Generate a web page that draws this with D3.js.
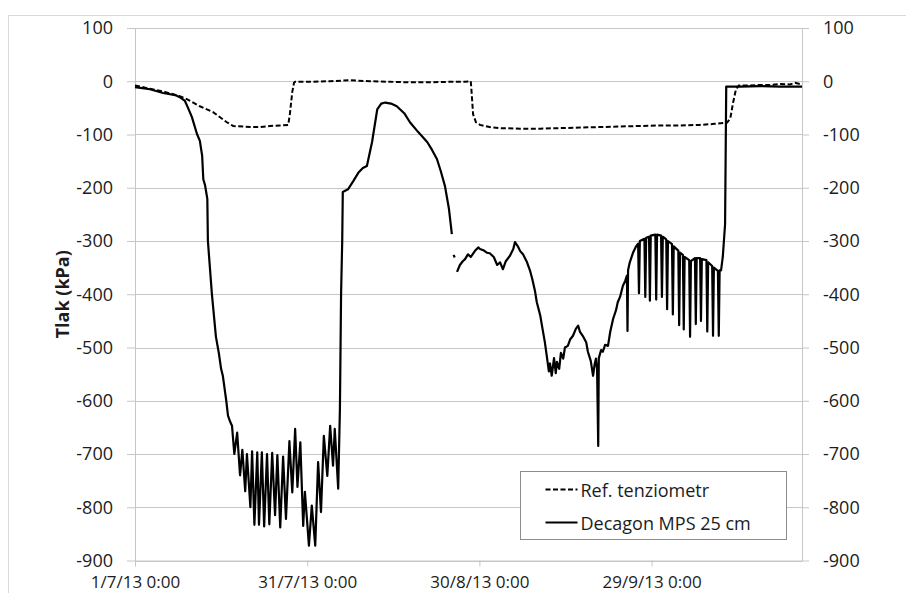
<!DOCTYPE html>
<html>
<head>
<meta charset="utf-8">
<script src="https://cdn.jsdelivr.net/npm/d3@7/dist/d3.min.js"></script>
<style>
	body { margin: 0; background: #fff; }
	svg { display: block; font-family: 'Open Sans', 'Noto Sans', sans-serif; }
</style>
</head>
<body>
<div id="chart"></div>
<script>
// x in days since 1/7/13 0:00, y in kPa
const xTickDates = ['2013-07-01', '2013-07-31', '2013-08-30', '2013-09-29'];
const yTicks = [100, 0, -100, -200, -300, -400, -500, -600, -700, -800, -900];
const axisDays = 116.2;

const seriesNames = ['Ref. tenziometr', 'Decagon MPS 25 cm'];

const refDay = [0, 2.6, 5.2, 7.8, 9.1, 11.3, 13.6, 16.0, 17.1, 20.1, 21.8, 23.5, 25.3, 26.7, 27.0, 27.4, 27.7, 27.9,
	30.5, 34.0, 37.5, 40.9, 44.4, 47.9, 51.4, 54.9, 57.5, 58.5, 58.7, 58.9, 59.4, 60.1, 61.8, 63.6, 67.1, 70.6,
	74.0, 77.5, 81.0, 84.5, 88.0, 91.5, 95.0, 98.4, 101.0, 103.1, 103.7, 104.2, 104.7, 105.2, 107.1, 108.9,
	110.6, 112.4, 114.1, 115.0, 116.2];
const refKPa = [-8, -14, -20, -28, -34, -47, -58, -77, -84, -86, -86, -84, -83, -82, -60, -20, -3, -1,
	-1, 0, 2, 0, -1, -2, -2, -1, -1, 0, -30, -62, -77, -82, -86, -88, -89, -89,
	-88, -87, -86, -85, -84, -83, -83, -82, -80, -78, -70, -40, -15, -8, -8, -7,
	-7, -5, -6, -3, -6];

const mpsDay = [0, 2.6, 4.9, 7.0, 7.8, 8.7, 9.2, 9.9, 10.8, 11.3, 11.7, 11.9, 12.2, 12.6, 12.7, 13.4, 14.1, 14.6,
	15.0, 15.3, 15.9, 16.2, 16.6, 16.9, 17.3, 17.8, 18.3, 18.7, 19.2, 19.5, 20.1, 20.4, 20.8, 21.3, 21.6, 22.1,
	22.5, 23.0, 23.4, 23.9, 24.4, 24.8, 25.3, 25.8, 26.3, 26.9, 27.4, 27.9, 28.3, 28.8, 29.3, 29.6, 30.3, 30.8,
	31.4, 31.9, 32.4, 32.9, 33.5, 34.0, 34.5, 34.8, 35.4, 35.7, 35.9, 36.1, 36.2, 37.1, 38.0, 38.9, 39.7, 40.4,
	41.3, 42.2, 42.9, 43.6, 44.6, 45.6, 46.9, 47.9, 49.3, 50.9, 51.7, 52.6, 53.3, 54.0, 54.7, 55.2,
	55.4, 55.5, 55.7, 55.9,
	56.1, 56.6, 57.1, 57.5, 58.0, 58.5, 59.2, 59.8, 60.1, 60.8, 61.3, 61.8, 62.5, 63.1, 63.6, 64.1, 64.6, 65.3,
	65.9, 66.2, 66.7, 67.1, 67.6, 68.3, 68.8, 69.2, 69.7, 70.0, 70.6, 70.9, 71.4, 71.8, 72.1, 72.3, 72.6, 73.0,
	73.3, 73.5, 73.9, 74.2, 74.6, 74.9, 75.4, 75.8, 76.3, 76.8, 77.2, 77.5, 78.0, 78.6, 78.9, 79.4, 79.8, 80.1,
	80.3, 80.5, 80.7, 80.8, 81.2, 81.5, 81.9, 82.4, 82.8, 83.3, 83.8, 84.1, 84.5, 85.0, 85.4, 85.7, 85.8, 85.9,
	86.2, 86.8, 87.3,
	87.65, 87.8, 87.95, 88.75, 88.9, 89.05, 89.55, 89.7, 89.85, 90.65, 90.8, 90.95, 91.65, 91.8, 91.95,
	92.55, 92.7, 92.85, 93.55, 93.7, 93.85, 94.65, 94.8, 94.95, 95.45, 95.6, 95.75, 96.55, 96.7, 96.85,
	97.55, 97.7, 97.85, 98.45, 98.6, 98.75, 99.55, 99.7, 99.85, 100.55, 100.7, 100.85, 101.55, 101.7, 101.85,
	102.1, 102.4, 102.8, 103.0, 105.4, 108.9, 112.4, 116.2];
const mpsKPa = [-11, -15, -22, -26, -30, -37, -49, -67, -99, -112, -140, -184, -195, -221, -300, -400, -480, -510,
	-540, -553, -600, -628, -640, -647, -700, -660, -740, -692, -770, -700, -800, -695, -833, -697, -833, -697,
	-836, -700, -832, -698, -815, -702, -838, -705, -822, -676, -772, -653, -762, -678, -835, -771, -872, -797,
	-872, -715, -809, -666, -741, -647, -722, -653, -765, -615, -400, -300, -208, -203, -188, -172, -163, -159,
	-114, -53, -42, -40, -42, -47, -60, -77, -95, -114, -128, -146, -170, -197, -240, -287,
	null, -326, -331, null,
	-358, -345, -338, -334, -325, -330, -319, -312, -315, -318, -322, -323, -330, -345, -340, -353, -338, -328,
	-315, -302, -310, -319, -325, -340, -355, -371, -395, -415, -440, -459, -490, -521, -545, -530, -553, -520,
	-548, -527, -540, -510, -521, -500, -497, -485, -478, -465, -459, -470, -478, -490, -508, -525, -553, -530,
	-521, -540, -685, -520, -505, -508, -495, -497, -470, -446, -430, -415, -405, -384, -375, -365, -469, -355,
	-340, -321, -310,
	-305, -398, -300, -296, -405, -294, -292, -412, -290, -288, -410, -288, -290, -405, -292,
	-297, -428, -300, -306, -438, -310, -318, -458, -322, -326, -466, -330, -336, -480, -338,
	-332, -456, -332, -332, -450, -334, -336, -470, -340, -347, -478, -350, -356, -478, -355,
	-355, -330, -268, -10, -10, -9, -10, -10];

const option = {
	width: 906,
	height: 593,
	margin: { left: 135, right: 104, top: 28, bottom: 32 },
	gridColor: '#c6c6c6',
	textColor: '#1c1c1c'
};

const startDate = new Date(2013, 6, 1);
const dayToDate = function (d) {
	return new Date(startDate.getTime() + d * 864e5);
};
const parseTick = d3.timeParse('%Y-%m-%d');

const drawRoot = function (element) {
	let svg = d3.select(element).append('svg')
		.attr('width', option.width)
		.attr('height', option.height);

	// outer chart frame, runs past the cropped edges
	svg.append('rect')
		.attr('x', 8.5)
		.attr('y', 15.5)
		.attr('width', 1000)
		.attr('height', 1000)
		.attr('fill', '#fff')
		.attr('stroke', '#d9d9d9');

	return svg;
};

const drawAxes = function (svg, xScale, yScale, w, h) {
	let g = svg.append('g')
		.attr('transform', `translate(${option.margin.left}, ${option.margin.top})`);

	g.append('g')
		.attr('class', 'grid')
		.selectAll('line')
		.data(yTicks)
		.enter().append('line')
		.attr('x1', 0)
		.attr('x2', w)
		.attr('y1', d => Math.round(yScale(d)) + 0.5)
		.attr('y2', d => Math.round(yScale(d)) + 0.5)
		.attr('stroke', option.gridColor);

	// plain hyphen minus like the original, not U+2212
	let kpaFormat = d => String(d);

	let axisLeft = g.append('g')
		.call(d3.axisLeft(yScale).tickValues(yTicks).tickFormat(kpaFormat)
			.tickSize(8).tickSizeOuter(0).tickPadding(14));

	let axisRight = g.append('g')
		.attr('transform', `translate(${w}, 0)`)
		.call(d3.axisRight(yScale).tickValues(yTicks).tickFormat(kpaFormat)
			.tickSize(7).tickSizeOuter(0).tickPadding(14));

	let axisBottom = g.append('g')
		.attr('transform', `translate(0, ${h})`)
		.call(d3.axisBottom(xScale)
			.tickValues(xTickDates.map(parseTick))
			.tickFormat(d3.timeFormat('%-d/%-m/%y %-H:%M'))
			.tickSize(6)
			.tickSizeOuter(0)
			.tickPadding(9));

	[axisLeft, axisRight, axisBottom].forEach(a => {
		a.selectAll('path, line').attr('stroke', option.gridColor);
		a.selectAll('text')
			.attr('fill', option.textColor)
			.style('font-size', '18px')
			.style('font-family', "'Open Sans', sans-serif");
	});
	axisBottom.selectAll('text').style('font-size', '17px');

	svg.append('text')
		.attr('transform', `translate(62, ${option.margin.top + h / 2}) rotate(-90)`)
		.attr('text-anchor', 'middle')
		.attr('dominant-baseline', 'central')
		.attr('font-weight', 700)
		.style('font-size', '18px')
		.attr('fill', option.textColor)
		.text('Tlak (kPa)');

	return g;
};

const drawLines = function (g, xScale, yScale) {
	let line = d3.line()
		.defined(d => d[1] !== null)
		.x(d => xScale(dayToDate(d[0])))
		.y(d => yScale(d[1]));

	let refData = refDay.map((d, i) => [d, refKPa[i]]);
	let mpsData = mpsDay.map((d, i) => [d, mpsKPa[i]]);

	g.append('path')
		.datum(refData)
		.attr('d', line)
		.attr('fill', 'none')
		.attr('stroke', '#000')
		.attr('stroke-width', 2)
		.attr('stroke-dasharray', '5,2.5');

	g.append('path')
		.datum(mpsData)
		.attr('d', line)
		.attr('fill', 'none')
		.attr('stroke', '#000')
		.attr('stroke-width', 2.2)
		.attr('stroke-linejoin', 'round');
};

const drawLegend = function (svg) {
	let legend = svg.append('g')
		.attr('transform', 'translate(520.5, 471.5)');

	legend.append('rect')
		.attr('width', 266)
		.attr('height', 68)
		.attr('fill', '#fff')
		.attr('stroke', '#8c8c8c');

	let item = legend.selectAll('g.item')
		.data(seriesNames)
		.enter().append('g')
		.attr('class', 'item')
		.attr('transform', (d, i) => `translate(0, ${18 + i * 33})`);

	item.append('line')
		.attr('x1', 25)
		.attr('x2', 57)
		.attr('stroke', '#000')
		.attr('stroke-width', 2)
		.attr('stroke-dasharray', (d, i) => i === 0 ? '5,2.5' : null);

	item.append('text')
		.attr('x', 60)
		.attr('dominant-baseline', 'central')
		.style('font-size', '18px')
		.attr('fill', option.textColor)
		.text(d => d);
};

const svg = drawRoot('#chart');
const w = option.width - option.margin.left - option.margin.right;
const h = option.height - option.margin.top - option.margin.bottom - 0.5;

const xScale = d3.scaleTime()
	.domain([startDate, dayToDate(axisDays)])
	.range([0, w]);
const yScale = d3.scaleLinear()
	.domain([-900, 100])
	.range([h, 0]);

const plot = drawAxes(svg, xScale, yScale, w, h);
drawLines(plot, xScale, yScale);
drawLegend(svg);
</script>
</body>
</html>
